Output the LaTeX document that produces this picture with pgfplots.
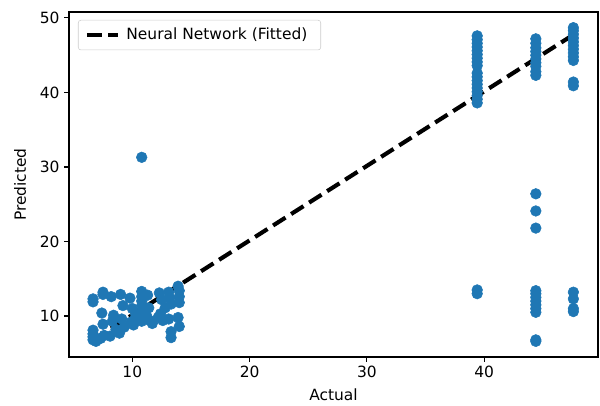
\documentclass[border=0pt]{standalone}
\usepackage{pgfplots}
\pgfplotsset{compat=1.18}
\usepackage{fontspec}
\setmainfont{DejaVu Sans}
\definecolor{mplblue}{HTML}{1F77B4}
\definecolor{legedge}{HTML}{CCCCCC}
\newcommand{\labfont}{\fontsize{11.6pt}{14pt}\selectfont}

\begin{document}
\begin{tikzpicture}
\useasboundingbox (-51.75pt,-36pt) rectangle (398.25pt,267.75pt);
\begin{axis}[
  at={(0pt,0pt)}, anchor=south west,
  scale only axis,
  width=396.75pt, height=258.75pt,
  xmin=4.6, xmax=49.7,
  ymin=4.5, ymax=50.8,
  xtick={10,20,30,40},
  ytick={10,20,30,40,50},
  axis line style={line width=0.8pt},
  tick style={line width=0.8pt, black},
  major tick length=3.6pt,
  tick align=outside,
  xtick pos=bottom, ytick pos=left,
  /pgf/number format/assume math mode=true,
  tick label style={font=\labfont},
  xlabel={Actual},
  ylabel={Predicted},
  every axis x label/.style={at={(axis description cs:0.5,-0.110)}, anchor=center, font=\labfont},
  every axis y label/.style={at={(axis description cs:-0.0926,0.5)}, rotate=90, anchor=center, font=\labfont},
  legend style={at={(axis description cs:0.017,0.977)}, anchor=north west,
    font=\labfont, draw=legedge, rounded corners=2pt, fill=white,
    inner xsep=5pt, inner ysep=4pt,
    nodes={inner xsep=5pt}},
  legend cell align=left,
  legend image code/.code={\draw[#1] (0pt,0pt) -- (23pt,0pt);},
]
% predicted vs actual
\addplot[only marks, mark=*, mark size=4pt, mplblue, forget plot] coordinates {
  (6.65,12.3) (6.65,11.9) (6.65,8.1) (6.65,7.6) (6.65,7.2) (6.65,6.8) (6.9,6.6)
  (7.5,13.2) (7.5,12.9) (7.4,10.4) (7.5,8.9) (7.3,7.0) (7.6,7.4)
  (8.2,12.6) (8.4,10.1) (8.3,9.3) (8.1,7.3) (8.6,8.2)
  (9.0,12.9) (9.2,11.4) (9.1,9.6) (9.3,8.5) (8.9,7.7)
  (9.8,12.4) (10.0,11.0) (9.9,9.2) (10.1,8.8) (10.3,10.2) (10.2,9.5)
  (10.8,13.3) (10.8,12.6) (10.8,12.0) (10.8,11.4) (10.8,10.6) (10.8,9.9) (10.8,9.3) (10.8,31.3)
  (11.3,12.8) (11.4,11.1) (11.2,10.1) (11.5,9.4) (11.7,9.0)
  (12.3,13.1) (12.5,12.2) (12.4,10.3) (12.6,9.4) (12.2,9.8) (12.8,11.1)
  (13.1,13.2) (13.2,12.4) (13.3,11.6) (13.1,9.6) (13.3,7.9) (13.3,7.1)
  (13.9,14.0) (14.0,13.4) (14.0,12.6) (14.0,11.8) (13.9,9.8) (14.0,8.6)
  (39.4,38.6) (39.4,39.1) (39.4,39.6) (39.4,40.1) (39.4,40.6) (39.4,41.1) (39.4,41.6)
  (39.4,42.1) (39.4,42.6) (39.4,43.6) (39.4,44.1) (39.4,44.6) (39.4,45.1) (39.4,45.6)
  (39.4,46.1) (39.4,46.6) (39.4,47.1) (39.4,47.6) (39.4,13.0) (39.4,13.5)
  (44.4,42.3) (44.4,42.8) (44.4,43.5) (44.4,44.0) (44.4,44.5) (44.4,45.0) (44.4,45.5)
  (44.4,46.0) (44.4,46.6) (44.4,47.2) (44.4,26.4) (44.4,24.1) (44.4,21.8)
  (44.4,13.4) (44.4,13.0) (44.4,12.5) (44.4,12.0) (44.4,11.5) (44.4,11.0) (44.4,10.5)
  (44.4,6.8) (44.4,6.6)
  (47.6,44.3) (47.6,44.8) (47.6,45.3) (47.6,45.8) (47.6,46.3) (47.6,46.8) (47.6,47.3)
  (47.6,47.8) (47.6,48.3) (47.6,48.7) (47.6,41.4) (47.6,40.9)
  (47.6,13.2) (47.6,12.3) (47.6,11.0) (47.6,10.6)
};
% fitted line
\addplot[black, line width=3.1pt, dash pattern=on 11pt off 5pt] coordinates {
  (6.65,6.8) (47.65,47.8)
};
\addlegendentry{Neural Network (Fitted)}
\end{axis}
\end{tikzpicture}
\end{document}
